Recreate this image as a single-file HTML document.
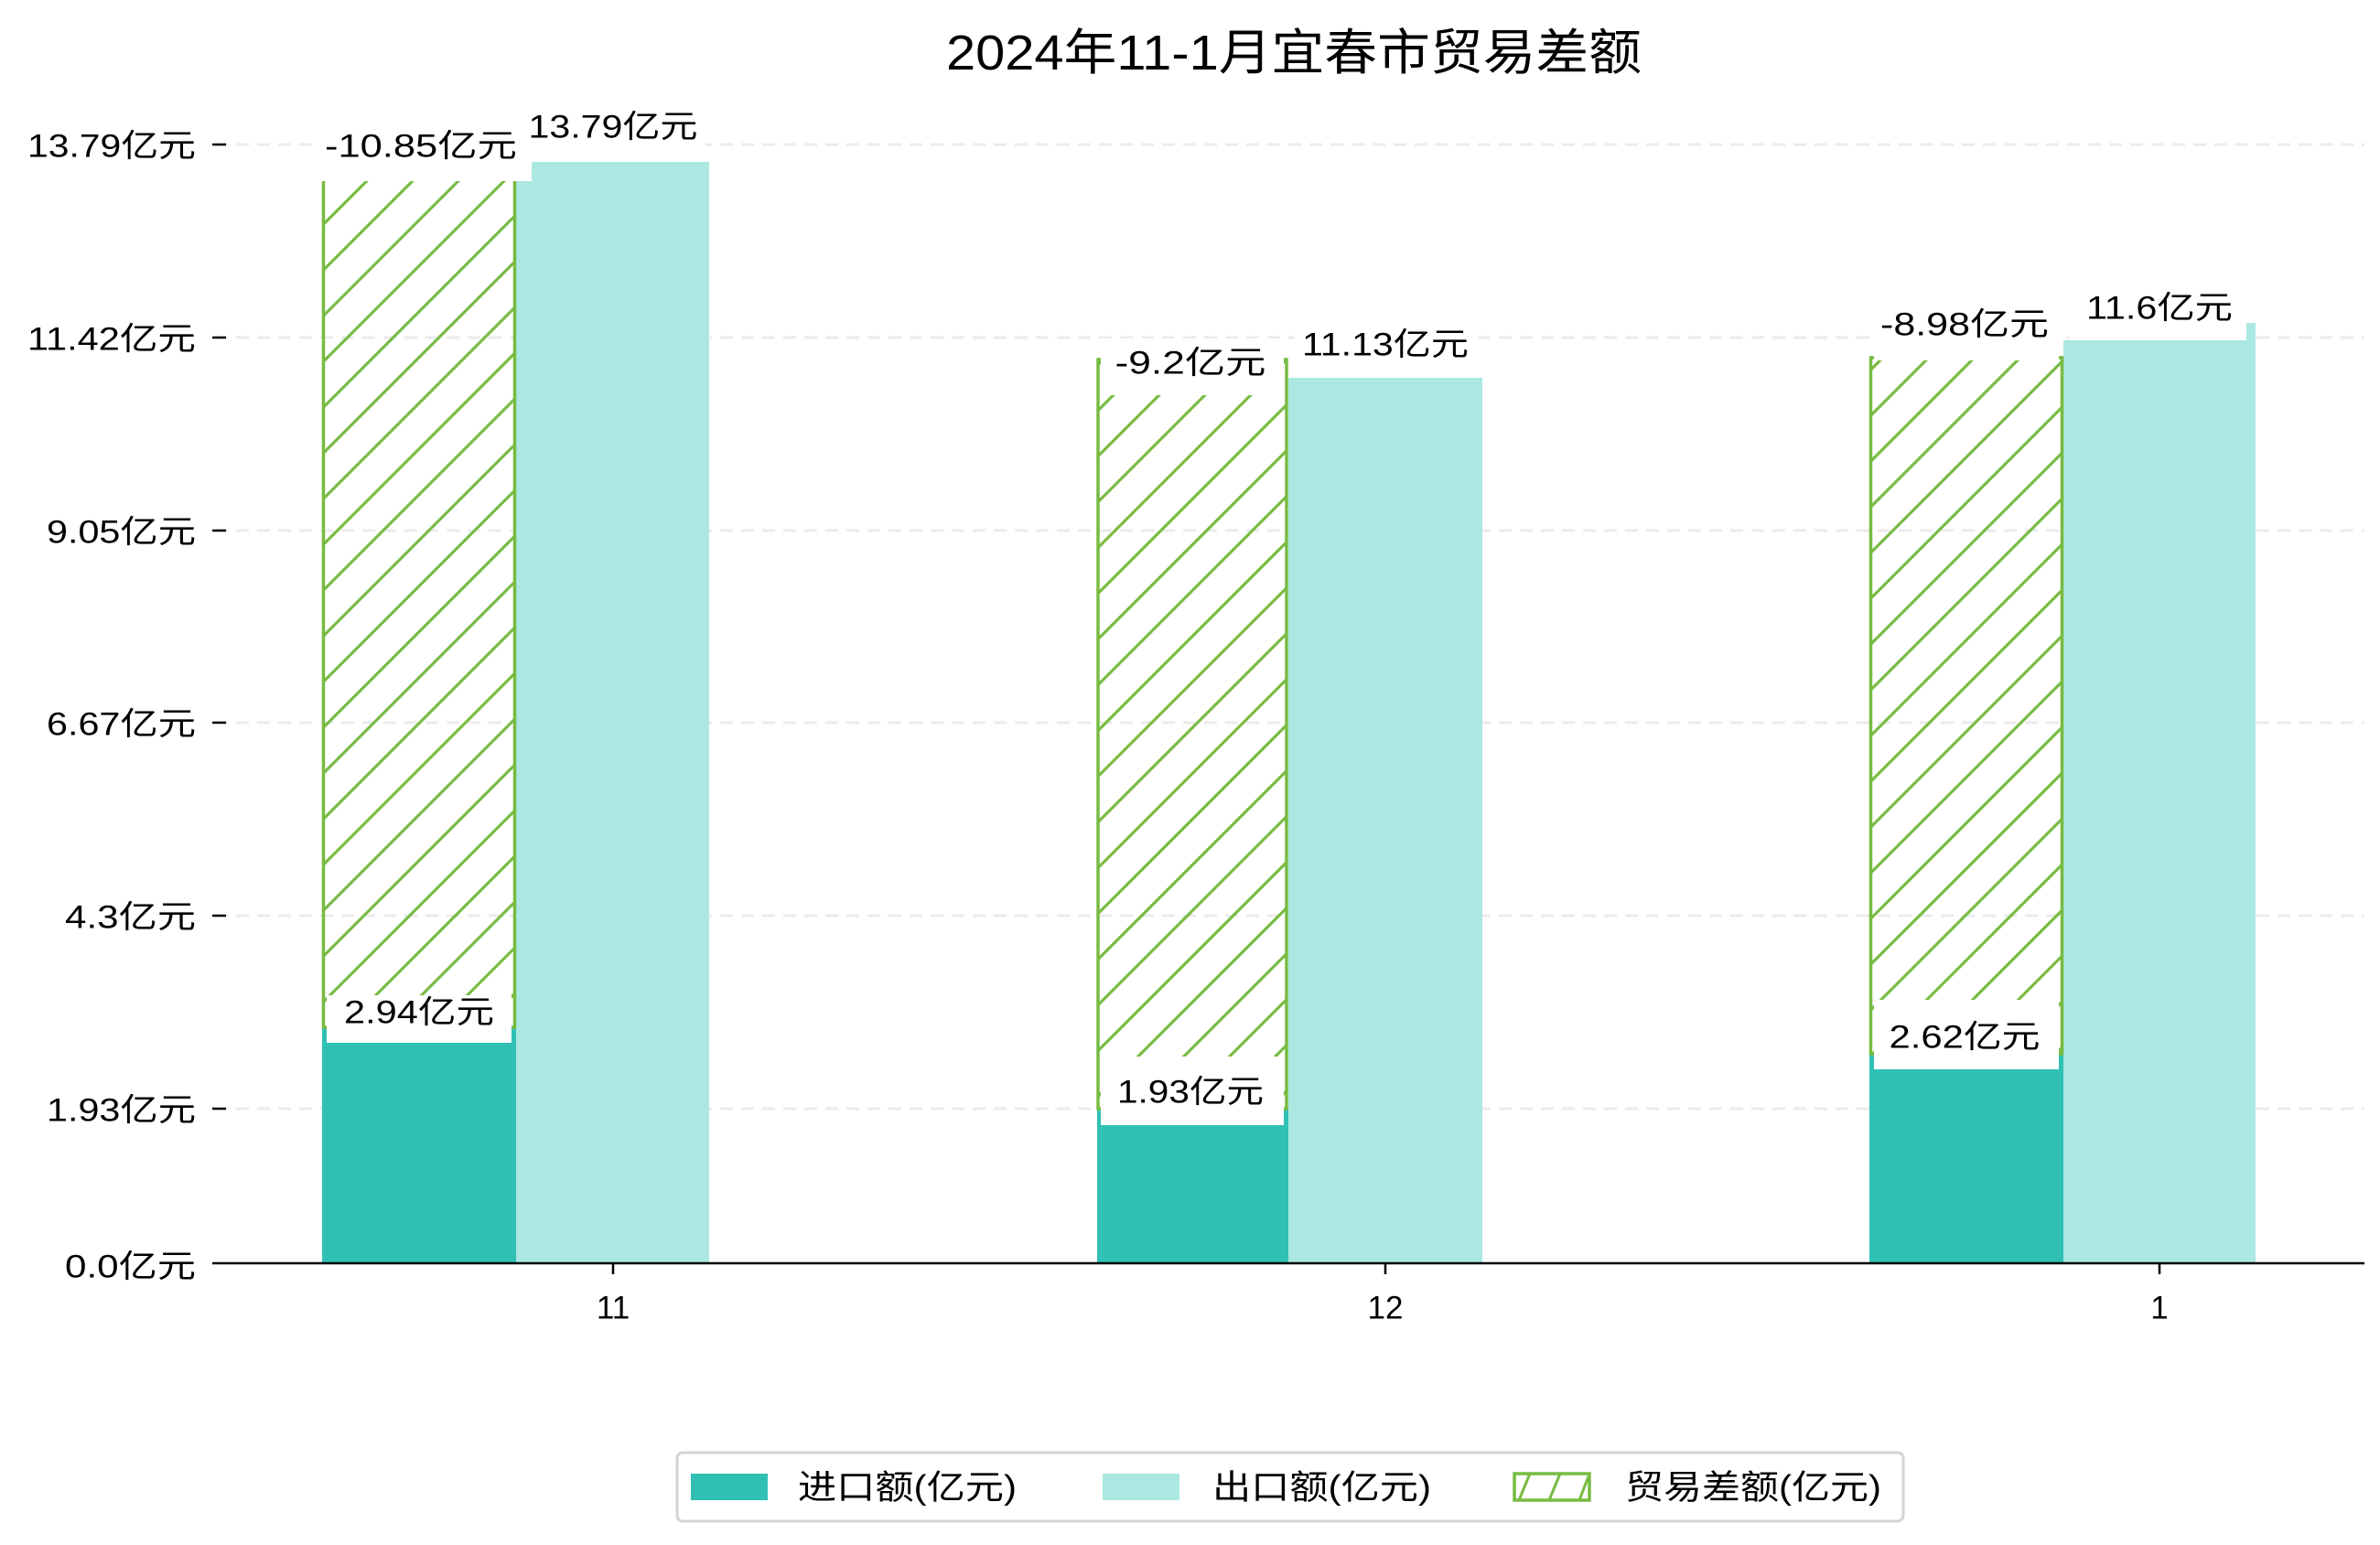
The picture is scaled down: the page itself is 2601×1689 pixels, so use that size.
<!DOCTYPE html>
<html><head><meta charset="utf-8"><style>
html,body{margin:0;padding:0;background:#fff;}
svg{display:block;font-family:"Liberation Sans","Noto Sans CJK SC",sans-serif;}
</style></head><body>
<svg width="2601" height="1689" viewBox="0 0 2601 1689" xmlns="http://www.w3.org/2000/svg">
<defs>
<pattern id="h" patternUnits="userSpaceOnUse" width="50" height="50" x="-1.3" y="0">
<line x1="-5" y1="55" x2="55" y2="-5" stroke="#77bb41" stroke-width="3.2"/>
<line x1="-5" y1="5" x2="5" y2="-5" stroke="#77bb41" stroke-width="3.2"/>
<line x1="45" y1="55" x2="55" y2="45" stroke="#77bb41" stroke-width="3.2"/>
</pattern>
</defs>
<text x="1414" y="58" font-size="54" text-anchor="middle" dominant-baseline="central" fill="#000" textLength="760" lengthAdjust="spacingAndGlyphs">2024年11-1月宜春市贸易差额</text>
<g stroke="#ebebeb" stroke-width="3" stroke-dasharray="14,9">
<line x1="235" y1="158" x2="2584" y2="158"/>
<line x1="235" y1="369" x2="2584" y2="369"/>
<line x1="235" y1="580" x2="2584" y2="580"/>
<line x1="235" y1="790" x2="2584" y2="790"/>
<line x1="235" y1="1001" x2="2584" y2="1001"/>
<line x1="235" y1="1212" x2="2584" y2="1212"/>
</g>
<g font-size="35" text-anchor="end" dominant-baseline="central" fill="#000">
<text x="214" y="160" textLength="184" lengthAdjust="spacingAndGlyphs">13.79亿元</text>
<text x="214" y="371" textLength="184" lengthAdjust="spacingAndGlyphs">11.42亿元</text>
<text x="214" y="582" textLength="163" lengthAdjust="spacingAndGlyphs">9.05亿元</text>
<text x="214" y="792" textLength="163" lengthAdjust="spacingAndGlyphs">6.67亿元</text>
<text x="214" y="1003" textLength="143" lengthAdjust="spacingAndGlyphs">4.3亿元</text>
<text x="214" y="1214" textLength="163" lengthAdjust="spacingAndGlyphs">1.93亿元</text>
<text x="214" y="1385" textLength="143" lengthAdjust="spacingAndGlyphs">0.0亿元</text>
</g>
<g stroke="#000" stroke-width="2.5">
<line x1="232" y1="158" x2="247" y2="158"/>
<line x1="232" y1="369" x2="247" y2="369"/>
<line x1="232" y1="580" x2="247" y2="580"/>
<line x1="232" y1="790" x2="247" y2="790"/>
<line x1="232" y1="1001" x2="247" y2="1001"/>
<line x1="232" y1="1212" x2="247" y2="1212"/>
</g>
<!-- import -->
<rect x="352" y="1123" width="212" height="258" fill="#30c0b4"/>
<rect x="1199" y="1212" width="209" height="169" fill="#30c0b4"/>
<rect x="2043" y="1152" width="212" height="229" fill="#30c0b4"/>
<!-- export -->
<rect x="564" y="177" width="211" height="1204" fill="#abe8e1"/>
<rect x="1408" y="413" width="212" height="968" fill="#abe8e1"/>
<rect x="2255" y="372" width="210" height="1009" fill="#abe8e1"/>
<rect x="2455" y="353" width="10" height="20" fill="#abe8e1"/>
<!-- hatch -->
<rect x="353.5" y="192" width="209" height="931" fill="url(#h)" stroke="#77bb41" stroke-width="3.5"/>
<rect x="1200" y="393" width="206" height="819" fill="url(#h)" stroke="#77bb41" stroke-width="3.5"/>
<rect x="2044.5" y="391" width="209" height="761" fill="url(#h)" stroke="#77bb41" stroke-width="3.5"/>
<!-- label boxes -->
<g fill="#fff">
<rect x="350" y="140" width="231" height="58"/>
<rect x="581" y="120" width="190" height="56"/>
<rect x="357" y="1088" width="202" height="52"/>
<rect x="1203" y="370" width="200" height="62"/>
<rect x="1415" y="352" width="200" height="60"/>
<rect x="1203" y="1155" width="200" height="75"/>
<rect x="2048" y="330" width="202" height="64"/>
<rect x="2262" y="310" width="192" height="62"/>
<rect x="2048" y="1093" width="202" height="76"/>
</g>
<g font-size="35" text-anchor="middle" dominant-baseline="central" fill="#000">
<text x="460" y="160" textLength="210" lengthAdjust="spacingAndGlyphs">-10.85亿元</text>
<text x="670" y="139" textLength="185" lengthAdjust="spacingAndGlyphs">13.79亿元</text>
<text x="458" y="1107" textLength="164" lengthAdjust="spacingAndGlyphs">2.94亿元</text>
<text x="1301" y="397" textLength="165" lengthAdjust="spacingAndGlyphs">-9.2亿元</text>
<text x="1514" y="377" textLength="182" lengthAdjust="spacingAndGlyphs">11.13亿元</text>
<text x="1301" y="1194" textLength="160" lengthAdjust="spacingAndGlyphs">1.93亿元</text>
<text x="2147" y="355" textLength="184" lengthAdjust="spacingAndGlyphs">-8.98亿元</text>
<text x="2360" y="337" textLength="160" lengthAdjust="spacingAndGlyphs">11.6亿元</text>
<text x="2147" y="1134" textLength="165" lengthAdjust="spacingAndGlyphs">2.62亿元</text>
</g>
<line x1="232" y1="1381" x2="2584" y2="1381" stroke="#000" stroke-width="2.5"/>
<g stroke="#000" stroke-width="2.5">
<line x1="670" y1="1381" x2="670" y2="1393"/>
<line x1="1514" y1="1381" x2="1514" y2="1393"/>
<line x1="2360" y1="1381" x2="2360" y2="1393"/>
</g>
<g font-size="35" text-anchor="middle" dominant-baseline="central" fill="#000">
<text x="670" y="1430">11</text>
<text x="1514" y="1430">12</text>
<text x="2360" y="1430">1</text>
</g>
<!-- legend -->
<rect x="740" y="1588" width="1340" height="75" rx="6" fill="#fff" stroke="#d4d4d4" stroke-width="3"/>
<rect x="755" y="1611" width="84" height="29" fill="#30c0b4"/>
<rect x="1205" y="1611" width="84" height="29" fill="#abe8e1"/>
<rect x="1655" y="1611" width="82" height="29" fill="#fff" stroke="#77bb41" stroke-width="3.5"/>
<line x1="1660" y1="1640" x2="1672" y2="1611" stroke="#77bb41" stroke-width="3"/>
<line x1="1693" y1="1640" x2="1705" y2="1611" stroke="#77bb41" stroke-width="3"/>
<line x1="1726" y1="1640" x2="1736" y2="1614" stroke="#77bb41" stroke-width="3"/>
<g font-size="37" dominant-baseline="central" fill="#000">
<text x="872" y="1626" textLength="239" lengthAdjust="spacingAndGlyphs">进口额(亿元)</text>
<text x="1325" y="1626" textLength="239" lengthAdjust="spacingAndGlyphs">出口额(亿元)</text>
<text x="1776" y="1626" textLength="280" lengthAdjust="spacingAndGlyphs">贸易差额(亿元)</text>
</g>
</svg>
</body></html>
